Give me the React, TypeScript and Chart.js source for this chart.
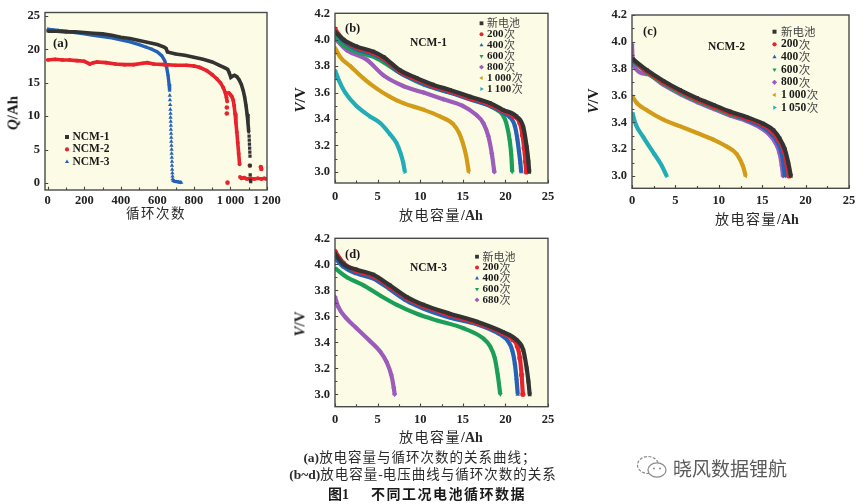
import React, { useEffect, useRef } from 'react';
import { Chart, registerables } from 'chart.js';
Chart.register(...registerables);

const SERIF = '"Liberation Serif","DejaVu Serif",serif';
const CJK = '"Noto Sans CJK SC","Noto Sans",sans-serif';
const BG = '#fcfbe6';

const C_BLACK = '#333333';
const C_RED = '#e8232b';
const C_BLUE = '#2462b8';
const C_GREEN = '#1b9f58';
const C_PURPLE = '#9c5cba';
const C_ORANGE = '#d39c18';
const C_CYAN = '#22adb6';

// ---------- (a) capacity vs cycles ----------
const aNcm1Cycles = [0, 50, 100, 150, 200, 250, 300, 350, 400, 450, 500, 550, 600, 640, 648, 655, 700, 750, 800, 850, 900, 940, 970, 985, 993, 1002, 1012, 1022, 1035, 1048, 1060, 1070, 1078, 1085, 1091, 1096, 1100];
const aNcm1Q = [22.7, 22.7, 22.6, 22.6, 22.5, 22.4, 22.3, 22.1, 21.8, 21.6, 21.3, 21.0, 20.7, 20.3, 20.1, 19.6, 19.3, 19.1, 18.8, 18.5, 18.1, 17.6, 17.2, 17.0, 16.5, 15.8, 16.0, 16.1, 15.9, 15.4, 14.7, 13.8, 12.8, 11.6, 10.3, 9.0, 7.6];
const aNcm1StrayCycles = [1102, 1103, 1104, 1105, 1106, 1107, 1107, 1108, 1109, 1111];
const aNcm1StrayQ = [7.0, 6.4, 5.8, 5.2, 4.6, 4.0, 2.6, 1.2, 0.4, 0.2];

const aNcm2Cycles = [0, 40, 80, 120, 160, 200, 230, 250, 270, 320, 370, 420, 470, 520, 545, 580, 640, 700, 760, 800, 830, 870, 900, 925, 945, 960, 972, 978, 982];
const aNcm2Q = [18.4, 18.5, 18.4, 18.4, 18.3, 18.2, 17.8, 18.0, 18.1, 18.0, 17.8, 17.7, 17.7, 17.9, 18.0, 17.8, 17.7, 17.6, 17.6, 17.5, 17.3, 16.8, 16.2, 15.6, 15.0, 14.3, 13.5, 12.8, 12.2];
const aNcm2bCycles = [990, 1000, 1008, 1015, 1020, 1025, 1030, 1035, 1040, 1045, 1050];
const aNcm2bQ = [13.5, 13.2, 12.9, 12.4, 11.6, 10.4, 9.0, 7.6, 6.0, 4.4, 2.8];
const aNcm2cCycles = [1052, 1060, 1075, 1090, 1110, 1130, 1150, 1170, 1185, 1198];
const aNcm2cQ = [0.9, 0.7, 0.8, 0.6, 0.7, 0.6, 0.7, 0.6, 0.7, 0.6];
const aNcm2StrayCycles = [980, 980, 984, 1106, 1166, 1169];
const aNcm2StrayQ = [11.3, 10.4, 0.05, 2.6, 2.4, 2.1];

const aNcm3Cycles = [0, 30, 60, 100, 150, 200, 250, 300, 350, 400, 450, 500, 540, 570, 600, 625, 640, 650, 658, 664, 667];
const aNcm3Q = [23.0, 22.9, 22.8, 22.7, 22.5, 22.3, 22.1, 21.9, 21.7, 21.4, 21.1, 20.7, 20.3, 20.0, 19.6, 19.0, 18.3, 17.4, 16.2, 14.8, 13.8];
const aNcm3DropCycles = [668, 669, 670, 671, 672, 672, 673, 674, 674, 675, 676, 676, 677, 678, 678, 679, 680, 680, 681, 682, 683, 684];
const aNcm3DropQ = [13.1, 12.4, 11.7, 11.0, 10.4, 9.8, 9.2, 8.6, 8.0, 7.4, 6.8, 6.2, 5.6, 5.0, 4.4, 3.8, 3.2, 2.6, 2.0, 1.5, 1.0, 0.6];
const aNcm3TailCycles = [685, 690, 695, 705, 715, 725, 732];
const aNcm3TailQ = [0.35, 0.3, 0.25, 0.2, 0.15, 0.1, 0.05];

const aXTicks = [0, 200, 400, 600, 800, 1000, 1200];
const aXMinor = [100, 300, 500, 700, 900, 1100];
const aYTicks = [0, 5, 10, 15, 20, 25];

// ---------- (b) NCM-1 ----------
const bNewX = [0, 1, 2.5, 4.5, 5.7, 7.6, 9.6, 11.5, 13.5, 15.8, 18.2, 19.7, 21.3, 22.1, 22.5, 22.7, 22.8];
const bNewV = [4.06, 4.0, 3.95, 3.91, 3.87, 3.77, 3.71, 3.66, 3.62, 3.57, 3.52, 3.47, 3.42, 3.34, 3.19, 3.08, 3.0];
const b200X = [0, 1, 2.5, 4.5, 5.7, 7.6, 9.6, 11.5, 13.5, 15.8, 18.2, 19.7, 21.0, 21.7, 22.0, 22.2, 22.35, 22.45];
const b200V = [4.08, 4.0, 3.94, 3.9, 3.86, 3.76, 3.7, 3.65, 3.61, 3.56, 3.51, 3.46, 3.42, 3.37, 3.28, 3.18, 3.08, 3.0];
const b400X = [0, 1, 2.5, 4.5, 5.7, 7.6, 9.6, 11.5, 13.5, 15.8, 18.2, 19.7, 20.6, 21.1, 21.4, 21.6, 21.75, 21.85];
const b400V = [4.07, 3.99, 3.93, 3.89, 3.85, 3.75, 3.69, 3.64, 3.6, 3.55, 3.5, 3.45, 3.41, 3.35, 3.25, 3.15, 3.07, 3.0];
const b600X = [0, 1, 2.5, 4.9, 7.6, 10.4, 13.5, 16.6, 19.0, 19.7, 20.1, 20.5, 20.7, 20.8];
const b600V = [4.03, 3.96, 3.91, 3.86, 3.75, 3.66, 3.6, 3.54, 3.47, 3.43, 3.37, 3.24, 3.12, 3.0];
const b800X = [0, 1.4, 3.7, 5.7, 8, 10.4, 12.7, 15, 16.6, 17.4, 18, 18.4, 18.7];
const b800V = [4.01, 3.92, 3.85, 3.73, 3.65, 3.6, 3.55, 3.5, 3.43, 3.37, 3.27, 3.14, 3.0];
const b1000X = [0, 0.6, 1.8, 3.3, 4.9, 6.4, 8, 10.4, 12.3, 13.9, 14.6, 15.0, 15.4, 15.7];
const b1000V = [3.94, 3.87, 3.8, 3.71, 3.63, 3.57, 3.52, 3.47, 3.42, 3.36, 3.29, 3.22, 3.12, 3.0];
const b1100X = [0, 0.4, 1.2, 2.5, 4.1, 5.3, 6.4, 7.2, 7.7, 8.0, 8.2];
const b1100V = [3.77, 3.7, 3.6, 3.5, 3.42, 3.37, 3.29, 3.22, 3.14, 3.07, 3.0];

// ---------- (c) NCM-2 ----------
const cNewX = [0.1, 1.7, 3.6, 5.55, 7.5, 9.4, 11.3, 13.2, 15.1, 16.3, 17.0, 17.6, 18.0, 18.3];
const cNewV = [3.87, 3.79, 3.71, 3.64, 3.58, 3.53, 3.48, 3.44, 3.39, 3.34, 3.28, 3.2, 3.1, 3.0];
const c200X = [0.1, 1.7, 3.6, 5.55, 7.5, 9.4, 11.3, 13.2, 15.1, 16.2, 16.9, 17.5, 17.85, 18.1];
const c200V = [3.87, 3.78, 3.7, 3.63, 3.57, 3.52, 3.47, 3.43, 3.38, 3.33, 3.27, 3.19, 3.09, 3.0];
const c400X = [0.1, 1.7, 3.6, 5.55, 7.5, 9.4, 11.3, 13.2, 15.0, 16.0, 16.7, 17.2, 17.45, 17.6];
const c400V = [3.86, 3.78, 3.7, 3.63, 3.57, 3.52, 3.47, 3.42, 3.37, 3.32, 3.26, 3.18, 3.09, 3.0];
const c600X = [0.1, 1.7, 3.6, 5.55, 7.5, 9.4, 11.3, 13.2, 15.0, 16.0, 16.8, 17.3, 17.55, 17.7];
const c600V = [3.86, 3.77, 3.69, 3.62, 3.56, 3.51, 3.46, 3.42, 3.37, 3.32, 3.26, 3.18, 3.09, 3.0];
const c800X = [0, 0.1, 1.7, 3.6, 5.55, 7.5, 9.4, 11.3, 13.2, 14.8, 15.8, 16.5, 17.0, 17.25, 17.4];
const c800V = [3.98, 3.84, 3.76, 3.68, 3.61, 3.55, 3.5, 3.45, 3.41, 3.36, 3.31, 3.25, 3.17, 3.08, 3.0];
const c1000X = [0.05, 0.6, 1.7, 3.6, 5.55, 7.5, 9.4, 10.9, 12.1, 12.8, 13.1];
const c1000V = [3.59, 3.54, 3.49, 3.42, 3.37, 3.32, 3.27, 3.22, 3.16, 3.07, 3.0];
const c1050X = [0.05, 0.4, 1.3, 2.5, 3.4, 4.0];
const c1050V = [3.47, 3.39, 3.29, 3.17, 3.08, 3.0];

// ---------- (d) NCM-3 ----------
const dNewX = [0, 1, 2.5, 4.5, 6.4, 8.4, 10.35, 13.5, 16.6, 19.7, 21.3, 22.1, 22.5, 22.7, 22.85];
const dNewV = [4.08, 4.0, 3.96, 3.92, 3.84, 3.75, 3.69, 3.62, 3.56, 3.48, 3.42, 3.34, 3.2, 3.1, 3.0];
const d200X = [0, 1, 2.5, 4.5, 6.4, 8.4, 10.35, 13.5, 16.6, 19.7, 20.9, 21.4, 21.7, 21.9, 22.05];
const d200V = [4.1, 4.01, 3.95, 3.91, 3.83, 3.74, 3.68, 3.61, 3.55, 3.47, 3.42, 3.37, 3.28, 3.15, 3.0];
const d400X = [0, 1, 2.5, 4.5, 6.4, 8.4, 10.35, 13.5, 16.6, 19.4, 20.3, 20.8, 21.1, 21.3, 21.45];
const d400V = [4.05, 3.98, 3.93, 3.89, 3.81, 3.72, 3.66, 3.59, 3.54, 3.46, 3.41, 3.34, 3.24, 3.12, 3.0];
const d600X = [0, 1.4, 3.3, 5.3, 7.2, 9.6, 11.9, 15, 17.4, 18.2, 18.75, 19.1, 19.4];
const d600V = [3.97, 3.9, 3.84, 3.76, 3.69, 3.62, 3.57, 3.51, 3.43, 3.37, 3.28, 3.15, 3.0];
const d680X = [0, 0.4, 1.4, 2.5, 4.1, 5.3, 6.05, 6.6, 6.9, 7.0];
const d680V = [3.75, 3.67, 3.58, 3.51, 3.41, 3.33, 3.25, 3.15, 3.05, 3.0];

const vXTicks = [0, 5, 10, 15, 20, 25];
const vXMinor = [2.5, 7.5, 12.5, 17.5, 22.5];
const vYTicks = [3.0, 3.2, 3.4, 3.6, 3.8, 4.0, 4.2];
const vYMinor = [3.1, 3.3, 3.5, 3.7, 3.9, 4.1];

const labelsNcm1 = ['新电池', '200次', '400次', '600次', '800次', '1\u2009000次', '1\u2009100次'];
const labelsNcm2 = ['新电池', '200次', '400次', '600次', '800次', '1\u2009000次', '1\u2009050次'];
const labelsNcm3 = ['新电池', '200次', '400次', '600次', '680次'];
const labelsA = ['NCM-1', 'NCM-2', 'NCM-3'];

type Mk = 'rect' | 'circle' | 'tri' | 'triDown' | 'diamond' | 'triLeft' | 'triRight';
const MARKS7: Mk[] = ['rect', 'circle', 'tri', 'triDown', 'diamond', 'triLeft', 'triRight'];
const COLORS7 = [C_BLACK, C_RED, C_BLUE, C_GREEN, C_PURPLE, C_ORANGE, C_CYAN];

function mkStyle(m: Mk): { pointStyle: any; rotation: number } {
  switch (m) {
    case 'rect': return { pointStyle: 'rect', rotation: 0 };
    case 'circle': return { pointStyle: 'circle', rotation: 0 };
    case 'tri': return { pointStyle: 'triangle', rotation: 0 };
    case 'triDown': return { pointStyle: 'triangle', rotation: 180 };
    case 'diamond': return { pointStyle: 'rectRot', rotation: 0 };
    case 'triLeft': return { pointStyle: 'triangle', rotation: 270 };
    case 'triRight': return { pointStyle: 'triangle', rotation: 90 };
  }
}

function pts(xs: number[], ys: number[]) {
  return xs.map((x, i) => ({ x, y: ys[i] }));
}

function series(xs: number[], ys: number[], color: string, m: Mk, opts: any = {}) {
  const s = mkStyle(m);
  return {
    data: pts(xs, ys),
    showLine: true,
    borderColor: color,
    backgroundColor: color,
    borderWidth: 4.2,
    pointRadius: 2.6,
    pointBorderWidth: 0,
    pointStyle: s.pointStyle,
    rotation: s.rotation,
    cubicInterpolationMode: 'monotone',
    ...opts,
  };
}

function drawMarker(ctx: CanvasRenderingContext2D, m: Mk, x: number, y: number, r: number, color: string) {
  ctx.save();
  ctx.fillStyle = color;
  ctx.beginPath();
  const tri = (ang: number) => {
    for (let k = 0; k < 3; k++) {
      const a = ang + (k * 2 * Math.PI) / 3;
      const px = x + r * 1.2 * Math.cos(a);
      const py = y + r * 1.2 * Math.sin(a);
      if (k === 0) ctx.moveTo(px, py); else ctx.lineTo(px, py);
    }
    ctx.closePath();
  };
  switch (m) {
    case 'rect': ctx.rect(x - r, y - r, 2 * r, 2 * r); break;
    case 'circle': ctx.arc(x, y, r * 1.05, 0, Math.PI * 2); break;
    case 'tri': tri(-Math.PI / 2); break;
    case 'triDown': tri(Math.PI / 2); break;
    case 'triLeft': tri(Math.PI); break;
    case 'triRight': tri(0); break;
    case 'diamond':
      ctx.moveTo(x, y - r * 1.3); ctx.lineTo(x + r * 1.3, y); ctx.lineTo(x, y + r * 1.3); ctx.lineTo(x - r * 1.3, y); ctx.closePath();
      break;
  }
  ctx.fill();
  ctx.restore();
}

function drawRuns(ctx: CanvasRenderingContext2D, text: string, x: number, y: number, size: number) {
  const parts = text.match(/[\u4e00-\u9fff]+|[^\u4e00-\u9fff]+/g) || [];
  let cx = x;
  for (const p of parts) {
    const cjk = /[\u4e00-\u9fff]/.test(p);
    ctx.font = cjk ? `400 ${size}px ${CJK}` : `bold ${size}px ${SERIF}`;
    ctx.fillStyle = cjk ? '#444444' : '#1a1a1a';
    ctx.fillText(p, cx, y);
    cx += ctx.measureText(p).width + (cjk ? 0 : 0.5);
  }
}

type PanelCfg = {
  left: number; top: number; width: number; height: number;
  area: { l: number; t: number; r: number; b: number };
  xMin: number; xMax: number; yMin: number; yMax: number;
  xTicks: number[]; xMinor: number[]; yTicks: number[]; yMinor: number[];
  xFmt: (v: number) => string; yFmt: (v: number) => string;
  xPad: number;
  datasets: any[];
  legend: { mx: number; tx: number; y0: number; step: number; size: number; labels: string[]; marks: Mk[]; colors: string[]; r: number };
  tags: { text: string; x: number; y: number; size: number }[];
};

function makeConfig(cfg: PanelCfg): any {
  const framePlugin = {
    id: 'frame',
    beforeDraw(chart: any) {
      const { ctx, chartArea: a } = chart;
      ctx.save();
      ctx.fillStyle = BG;
      ctx.fillRect(a.left, a.top, a.right - a.left, a.bottom - a.top);
      ctx.restore();
    },
    afterDatasetsDraw(chart: any) {
      const { ctx, chartArea: a, scales } = chart;
      ctx.save();
      ctx.strokeStyle = '#454545';
      ctx.lineWidth = 1.1;
      const xs = scales.x, ys = scales.y;
      ctx.beginPath();
      for (const v of cfg.xTicks) {
        const p = Math.round(xs.getPixelForValue(v)) + 0.5;
        ctx.moveTo(p, a.bottom); ctx.lineTo(p, a.bottom - 3.2);
      }
      for (const v of cfg.xMinor) {
        const p = Math.round(xs.getPixelForValue(v)) + 0.5;
        ctx.moveTo(p, a.bottom); ctx.lineTo(p, a.bottom - 2.4);
      }
      for (const v of cfg.yTicks) {
        const p = Math.round(ys.getPixelForValue(v)) + 0.5;
        ctx.moveTo(a.left, p); ctx.lineTo(a.left + 3.2, p);
      }
      for (const v of cfg.yMinor) {
        const p = Math.round(ys.getPixelForValue(v)) + 0.5;
        ctx.moveTo(a.left, p); ctx.lineTo(a.left + 2.4, p);
      }
      ctx.stroke();
      ctx.strokeStyle = '#4a4a4a';
      ctx.lineWidth = 1.4;
      ctx.strokeRect(a.left, a.top, a.right - a.left, a.bottom - a.top);
      ctx.restore();
    },
    afterDraw(chart: any) {
      const { ctx } = chart;
      const lg = cfg.legend;
      ctx.save();
      ctx.textBaseline = 'middle';
      ctx.textAlign = 'left';
      lg.labels.forEach((lab, i) => {
        const y = lg.y0 + i * lg.step;
        drawMarker(ctx, lg.marks[i], lg.mx, y, lg.r, lg.colors[i]);
        drawRuns(ctx, lab, lg.tx, y, lg.size);
      });
      for (const t of cfg.tags) {
        ctx.font = `bold ${t.size}px ${SERIF}`;
        ctx.fillStyle = '#1a1a1a';
        ctx.fillText(t.text, t.x, t.y);
      }
      ctx.restore();
    },
  };

  const tickFont = { family: SERIF, size: 12.5, weight: 'bold' as const };
  return {
    type: 'scatter',
    data: { datasets: cfg.datasets },
    plugins: [framePlugin],
    options: {
      animation: false,
      responsive: false,
      events: [],
      layout: { padding: { left: 0, top: cfg.area.t, right: cfg.width - cfg.area.r, bottom: 0 } },
      plugins: { legend: { display: false }, tooltip: { enabled: false } },
      scales: {
        x: {
          type: 'linear',
          min: cfg.xMin,
          max: cfg.xMax,
          afterBuildTicks: (s: any) => { s.ticks = cfg.xTicks.map((v) => ({ value: v })); },
          afterFit: (s: any) => { s.height = cfg.height - cfg.area.b; },
          grid: { display: false, drawTicks: false },
          border: { display: false },
          ticks: { font: tickFont, color: '#222', padding: cfg.xPad, maxRotation: 0, autoSkip: false, callback: (v: any) => cfg.xFmt(Number(v)) },
        },
        y: {
          type: 'linear',
          min: cfg.yMin,
          max: cfg.yMax,
          afterBuildTicks: (s: any) => { s.ticks = cfg.yTicks.map((v) => ({ value: v })); },
          afterFit: (s: any) => { s.width = cfg.area.l; },
          grid: { display: false, drawTicks: false },
          border: { display: false },
          ticks: { font: tickFont, color: '#222', padding: 5, autoSkip: false, callback: (v: any) => cfg.yFmt(Number(v)) },
        },
      },
    },
  };
}

const fmtInt = (v: number) => (v >= 1000 ? `${Math.floor(v / 1000)}\u2009${String(v % 1000).padStart(3, '0')}` : String(v));
const fmt1 = (v: number) => v.toFixed(1);

const aLine = { borderWidth: 3.6, pointRadius: 1.9, cubicInterpolationMode: 'default', tension: 0 };
const stray = { showLine: false, pointRadius: 2.3 };

const panelA: PanelCfg = {
  left: 0, top: 0, width: 290, height: 212,
  area: { l: 45, t: 7, r: 267, b: 190 },
  xMin: -15, xMax: 1200, yMin: -1.05, yMax: 25.5,
  xTicks: aXTicks, xMinor: aXMinor, yTicks: aYTicks, yMinor: [],
  xFmt: fmtInt, yFmt: (v) => String(v), xPad: 3,
  datasets: [
    series(aNcm1Cycles, aNcm1Q, C_BLACK, 'rect', aLine),
    series(aNcm1StrayCycles, aNcm1StrayQ, C_BLACK, 'rect', stray),
    series(aNcm2Cycles, aNcm2Q, C_RED, 'circle', aLine),
    series(aNcm2bCycles, aNcm2bQ, C_RED, 'circle', aLine),
    series(aNcm2cCycles, aNcm2cQ, C_RED, 'circle', aLine),
    series(aNcm2StrayCycles, aNcm2StrayQ, C_RED, 'circle', stray),
    series(aNcm3Cycles, aNcm3Q, C_BLUE, 'tri', { ...aLine, borderWidth: 3.4, pointRadius: 2.2 }),
    series(aNcm3DropCycles, aNcm3DropQ, C_BLUE, 'tri', { ...stray, pointRadius: 2.5 }),
    series(aNcm3TailCycles, aNcm3TailQ, C_BLUE, 'tri', { ...aLine, borderWidth: 3.4, pointRadius: 2.2 }),
  ],
  legend: { mx: 67, tx: 72.5, y0: 137, step: 12.4, size: 11.5, labels: labelsA, marks: ['rect', 'circle', 'tri'], colors: [C_BLACK, C_RED, C_BLUE], r: 2 },
  tags: [{ text: '(a)', x: 53, y: 43.5, size: 13 }],
};

const vDatasets = (xs: number[][], vs: number[][]) =>
  xs.map((x, i) => series(x, vs[i], COLORS7[i], MARKS7[i]));

const panelB: PanelCfg = {
  left: 290, top: 0, width: 290, height: 205,
  area: { l: 45, t: 13.3, r: 258, b: 183 },
  xMin: 0, xMax: 25, yMin: 2.916, yMax: 4.2,
  xTicks: vXTicks, xMinor: vXMinor, yTicks: vYTicks, yMinor: vYMinor,
  xFmt: (v) => String(v), yFmt: fmt1, xPad: 6,
  datasets: vDatasets([bNewX, b200X, b400X, b600X, b800X, b1000X, b1100X], [bNewV, b200V, b400V, b600V, b800V, b1000V, b1100V]),
  legend: { mx: 191.5, tx: 197, y0: 23.3, step: 10.95, size: 11, labels: labelsNcm1, marks: MARKS7, colors: COLORS7, r: 1.9 },
  tags: [{ text: '(b)', x: 55, y: 28.5, size: 12.5 }, { text: 'NCM-1', x: 120, y: 43.5, size: 11.5 }],
};

const panelC: PanelCfg = {
  left: 580, top: 0, width: 284, height: 210,
  area: { l: 52, t: 15, r: 269, b: 188.3 },
  xMin: 0, xMax: 25, yMin: 2.908, yMax: 4.2,
  xTicks: vXTicks, xMinor: vXMinor, yTicks: vYTicks, yMinor: vYMinor,
  xFmt: (v) => String(v), yFmt: fmt1, xPad: 5,
  datasets: vDatasets([cNewX, c200X, c400X, c600X, c800X, c1000X, c1050X], [cNewV, c200V, c400V, c600V, c800V, c1000V, c1050V]),
  legend: { mx: 194.5, tx: 201, y0: 31.7, step: 12.65, size: 11.5, labels: labelsNcm2, marks: MARKS7, colors: COLORS7, r: 2 },
  tags: [{ text: '(c)', x: 63, y: 32, size: 12.5 }, { text: 'NCM-2', x: 128, y: 46.7, size: 11.5 }],
};

const panelD: PanelCfg = {
  left: 290, top: 225, width: 290, height: 205,
  area: { l: 45, t: 13.3, r: 258, b: 181.7 },
  xMin: 0, xMax: 25, yMin: 2.905, yMax: 4.2,
  xTicks: vXTicks, xMinor: vXMinor, yTicks: vYTicks, yMinor: vYMinor,
  xFmt: (v) => String(v), yFmt: fmt1, xPad: 6,
  datasets: vDatasets([dNewX, d200X, d400X, d600X, d680X], [dNewV, d200V, d400V, d600V, d680V]),
  legend: { mx: 187, tx: 192.5, y0: 31.7, step: 10.8, size: 11, labels: labelsNcm3, marks: MARKS7.slice(0, 5), colors: [C_BLACK, C_RED, C_BLUE, C_GREEN, C_PURPLE], r: 1.9 },
  tags: [{ text: '(d)', x: 55, y: 29.5, size: 12.5 }, { text: 'NCM-3', x: 120, y: 43.5, size: 11.5 }],
};

function Panel({ cfg }: { cfg: PanelCfg }) {
  const ref = useRef<HTMLCanvasElement>(null);
  useEffect(() => {
    const chart = new Chart(ref.current as HTMLCanvasElement, makeConfig(cfg));
    return () => chart.destroy();
  }, []);
  return (
    <canvas
      ref={ref}
      width={cfg.width}
      height={cfg.height}
      style={{ position: 'absolute', left: cfg.left, top: cfg.top, width: cfg.width, height: cfg.height }}
    />
  );
}

const abs = (x: number, y: number, extra: React.CSSProperties = {}): React.CSSProperties => ({
  position: 'absolute', left: x, top: y, transform: 'translate(-50%,-50%)', whiteSpace: 'nowrap', lineHeight: 1, ...extra,
});
const rot = (x: number, y: number): React.CSSProperties => abs(x, y, { transform: 'translate(-50%,-50%) rotate(-90deg)' });

const B: React.CSSProperties = { fontFamily: SERIF, fontWeight: 'bold' };
const CJKs: React.CSSProperties = { fontFamily: CJK, fontWeight: 400 };

function VTitle({ x, y }: { x: number; y: number }) {
  return (
    <div style={{ ...rot(x, y), ...B, fontSize: 15, color: '#1a1a1a' }}>
      <i>V</i>/V
    </div>
  );
}
function XTitle({ x, y }: { x: number; y: number }) {
  return (
    <div style={{ ...abs(x, y), fontSize: 14, color: '#2a2a2a' }}>
      <span style={{ ...CJKs, letterSpacing: 1.5 }}>放电容量</span>
      <span style={B}>/Ah</span>
    </div>
  );
}

export default function App() {
  return (
    <div style={{ position: 'absolute', left: 0, top: 0, width: 864, height: 504, background: '#fff', overflow: 'hidden' }}>
      <Panel cfg={panelA} />
      <Panel cfg={panelB} />
      <Panel cfg={panelC} />
      <Panel cfg={panelD} />

      <div style={{ ...rot(13, 113), ...B, fontSize: 15, color: '#1a1a1a' }}>
        <i>Q</i>/Ah
      </div>
      <div style={{ ...abs(156, 213), ...CJKs, fontSize: 13.5, letterSpacing: 1.5, color: '#2a2a2a' }}>循环次数</div>

      <VTitle x={300} y={100} />
      <XTitle x={441} y={215} />
      <VTitle x={593} y={101} />
      <XTitle x={757} y={219} />
      <VTitle x={300} y={324} />
      <XTitle x={441} y={437} />

      <div style={{ ...abs(420, 457), fontSize: 13.5, color: '#2a2a2a' }}>
        <span style={B}>(a)</span>
        <span style={{ ...CJKs, letterSpacing: 1 }}>放电容量与循环次数的关系曲线；</span>
      </div>
      <div style={{ ...abs(423, 474), fontSize: 13.5, color: '#2a2a2a' }}>
        <span style={B}>(b~d)</span>
        <span style={{ ...CJKs, letterSpacing: 1 }}>放电容量</span>
        <span style={B}>-</span>
        <span style={{ ...CJKs, letterSpacing: 1 }}>电压曲线与循环次数的关系</span>
      </div>
      <div style={{ ...abs(427, 494), fontSize: 14, color: '#1a1a1a' }}>
        <span style={{ fontFamily: CJK, fontWeight: 700 }}>图</span>
        <span style={B}>1</span>
        <span style={{ display: 'inline-block', width: 22 }} />
        <span style={{ fontFamily: CJK, fontWeight: 700, letterSpacing: 1.5 }}>不同工况电池循环数据</span>
      </div>

      <svg style={{ position: 'absolute', left: 636, top: 454 }} width={32} height={27} viewBox="0 0 32 27">
        <ellipse cx="12" cy="11" rx="10.5" ry="8.5" fill="none" stroke="#8a8a8a" strokeWidth="1.2" strokeDasharray="3 1.5" />
        <ellipse cx="21" cy="16" rx="9" ry="7.2" fill="#fff" stroke="#8a8a8a" strokeWidth="1.2" />
        <circle cx="18" cy="14.5" r="1" fill="#8a8a8a" />
        <circle cx="24" cy="14.5" r="1" fill="#8a8a8a" />
      </svg>
      <div style={{ position: 'absolute', left: 673, top: 467, transform: 'translateY(-50%)', fontFamily: CJK, fontWeight: 400, fontSize: 19, color: '#5a5a5a', whiteSpace: 'nowrap', lineHeight: 1 }}>
        晓风数据锂航
      </div>
    </div>
  );
}
